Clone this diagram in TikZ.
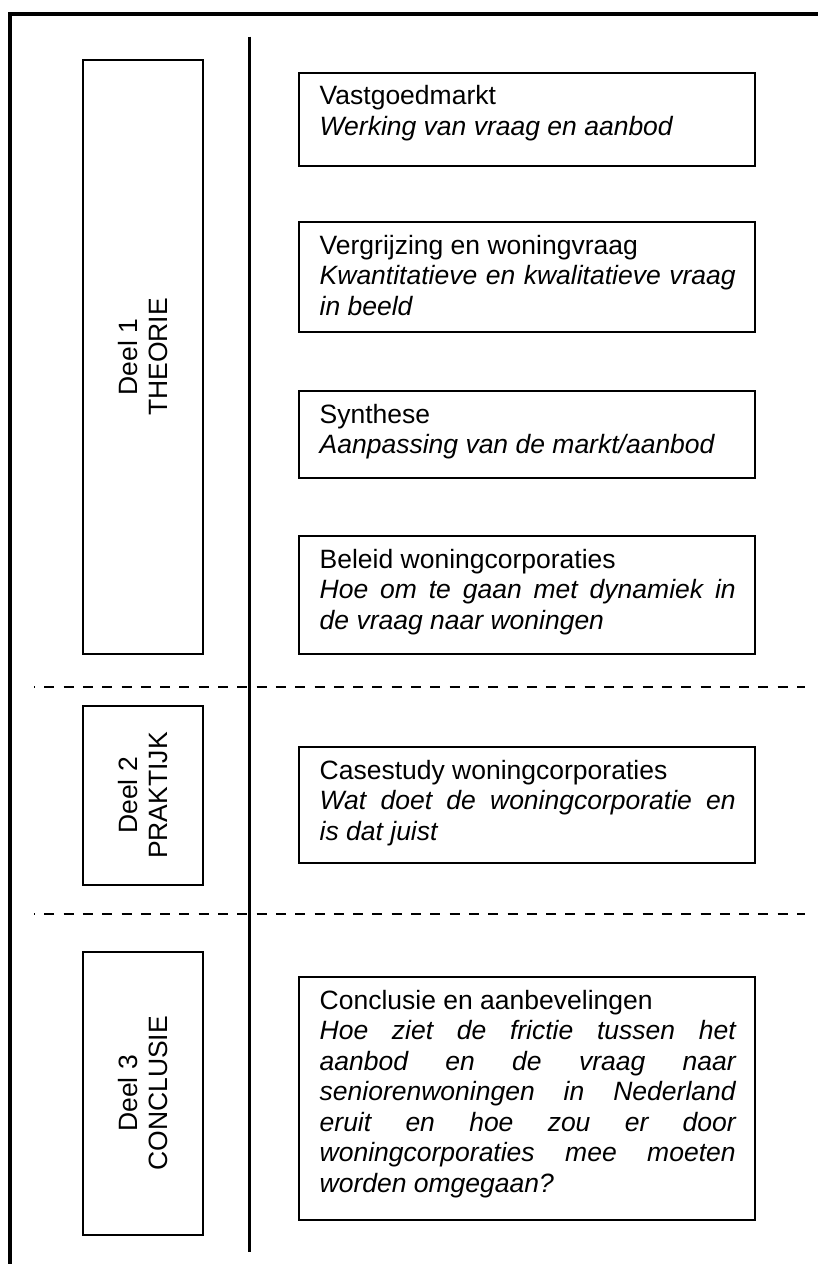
\documentclass[tikz,border=0pt]{standalone}
\usepackage{fontspec}
\setmainfont{Liberation Sans}
\usetikzlibrary{calc}
\newcommand{\rpara}[2]{\parbox[t]{416pt}{\fontsize{26.5}{30.5}\selectfont\hyphenpenalty=10000 \parindent=0pt #1\\\itshape #2}}
\begin{document}
\begin{tikzpicture}[x=1pt,y=-1pt,
  framestyle/.style={line width=4pt, line join=miter},
  axisline/.style={line width=2.5pt},
  sepline/.style={line width=2pt, dash pattern=on 10pt off 9.3pt, dash phase=9pt},
  lbox/.style={draw, line width=2pt, anchor=north west, inner sep=0pt, minimum width=120.3pt},
  rbox/.style={draw, line width=2pt, anchor=north west, inner sep=0pt, minimum width=456.3pt},
  lbl/.style={rotate=90, align=center, inner sep=0pt, font=\fontsize{26.5}{30.5}\selectfont},
  rtxt/.style={anchor=base west, inner sep=0pt}
]
\useasboundingbox (0,0) rectangle (818,1264);
% frame
\draw[framestyle] (10,1264) -- (10,13.7) -- (818,13.7);
% central axis
\draw[axisline] (249.6,36.7) -- (249.6,1251.7);
% separators
\draw[sepline] (34,687.3) -- (805,687.3);
\draw[sepline] (34,914) -- (805,914);
% left boxes
\node[lbox, minimum height=593.5pt] (l1) at (81.7,59.3) {};
\node[lbox, minimum height=179pt] (l2) at (81.7,705) {};
\node[lbox, minimum height=283.3pt] (l3) at (81.7,950.7) {};
\node[lbl] (l1t) at (l1.center) {Deel 1\\THEORIE};
\node[lbl] (l2t) at (l2.center) {Deel 2\\PRAKTIJK};
\node[lbl] (l3t) at (l3.center) {Deel 3\\CONCLUSIE};
% right boxes
\node[rbox, minimum height=93.3pt] (r1) at (297.7,71.7) {};
\node[rbox, minimum height=110pt] (r2) at (297.7,221) {};
\node[rbox, minimum height=87pt] (r3) at (297.7,390) {};
\node[rbox, minimum height=118pt] (r4) at (297.7,535) {};
\node[rbox, minimum height=116pt] (r5) at (297.7,746) {};
\node[rbox, minimum height=243pt] (r6) at (297.7,976) {};
\node[rtxt] (r1t) at ($(r1.north west)+(21.8,33)$) {\rpara{Vastgoedmarkt}{Werking van vraag en aanbod}};
\node[rtxt] (r2t) at ($(r2.north west)+(21.8,33)$) {\rpara{Vergrijzing en woningvraag}{Kwantitatieve en kwalitatieve vraag\linebreak in beeld}};
\node[rtxt] (r3t) at ($(r3.north west)+(21.8,33)$) {\rpara{Synthese}{Aanpassing van de markt/aanbod}};
\node[rtxt] (r4t) at ($(r4.north west)+(21.8,33)$) {\rpara{Beleid woningcorporaties}{Hoe om te gaan met dynamiek in\linebreak de vraag naar woningen}};
\node[rtxt] (r5t) at ($(r5.north west)+(21.8,33)$) {\rpara{Casestudy woningcorporaties}{Wat doet de woningcorporatie en\linebreak is dat juist}};
\node[rtxt] (r6t) at ($(r6.north west)+(21.8,33)$) {\rpara{Conclusie en aanbevelingen}{Hoe ziet de frictie tussen het\linebreak aanbod en de vraag naar\linebreak seniorenwoningen in Nederland\linebreak eruit en hoe zou er door\linebreak woningcorporaties mee moeten\linebreak worden omgegaan?}};
\end{tikzpicture}
\end{document}
